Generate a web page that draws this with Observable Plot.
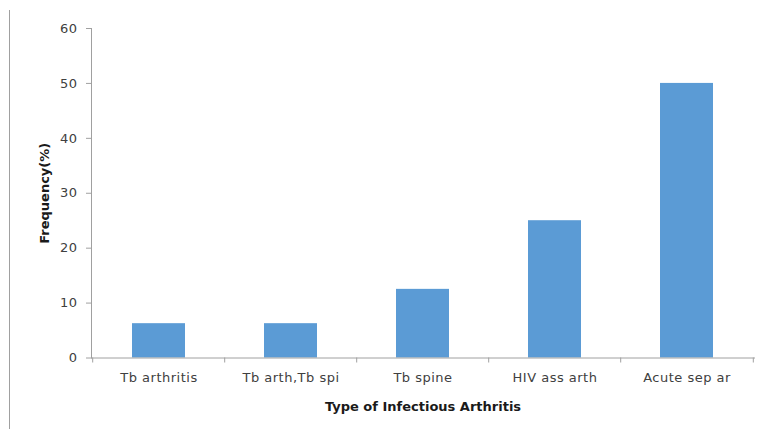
<!DOCTYPE html>
<html>
<head>
<meta charset="utf-8">
<script src="https://cdn.jsdelivr.net/npm/d3@7"></script>
<script src="https://cdn.jsdelivr.net/npm/@observablehq/plot@0.6"></script>
<style>
  html, body { margin: 0; padding: 0; background: #fff; }
  #wrap { position: relative; width: 759px; height: 429px; overflow: hidden; }
  #border { position: absolute; left: 9px; top: 10px; width: 1px; height: 419px; background: #a0a0a0; }
  svg { font-family: "DejaVu Sans", Verdana, sans-serif; }
  .ticklbl text { letter-spacing: 0.5px; }
</style>
</head>
<body>
<div id="wrap"><div id="border"></div></div>
<script>
const categories = ["Tb arthritis", "Tb arth,Tb spi", "Tb spine", "HIV ass arth", "Acute sep ar"];
const values = [6.25, 6.25, 12.5, 25, 50];
const yTicks = [0, 10, 20, 30, 40, 50, 60];
const xTitle = "Type of Infectious Arthritis";
const yTitle = "Frequency(%)";

const data = categories.map((c, i) => ({cat: c, value: values[i]}));

const W = 759, H = 429, ML = 91, MR = 5, MT = 28, MB = 71.5;
const step = (W - ML - MR) / categories.length;
const axisColor = "#a0a0a0";

const chart = Plot.plot({
  width: W,
  height: H,
  marginLeft: ML,
  marginRight: MR,
  marginTop: MT,
  marginBottom: MB,
  style: {fontFamily: "DejaVu Sans, Verdana, sans-serif", fontSize: "13px", color: "#404040", background: "transparent"},
  x: {domain: categories, paddingInner: 0.6, paddingOuter: 0.3, align: 0.5, label: null},
  y: {domain: [0, 60], label: null},
  marks: [
    Plot.barY(data, {x: "cat", y: "value", fill: "#5b9bd5"}),
    Plot.frame({anchor: "left", stroke: axisColor}),
    Plot.frame({anchor: "bottom", stroke: axisColor}),
    Plot.axisY({ticks: yTicks, tickSize: 5, tickPadding: 9, stroke: axisColor, fill: "#404040", label: null, fontSize: 13, className: "ticklbl"}),
    Plot.axisX({tickSize: 0, tickPadding: 15, fill: "#404040", label: null, fontSize: 13, className: "ticklbl"}),
    Plot.axisX({ticks: categories, tickSize: 5, dx: -step / 2, stroke: axisColor, tickFormat: () => "", label: null}),
    Plot.axisX({ticks: [categories[categories.length - 1]], tickSize: 5, dx: step / 2, stroke: axisColor, tickFormat: () => "", label: null}),
    Plot.text([xTitle], {text: d => d, frameAnchor: "bottom", dy: 49, lineAnchor: "middle", fontWeight: "bold", fontSize: 13, fill: "#1a1a1a"}),
    Plot.text([yTitle], {text: d => d, frameAnchor: "left", dx: -47, rotate: -90, textAnchor: "middle", lineAnchor: "middle", fontWeight: "bold", fontSize: 13, fill: "#1a1a1a"})
  ]
});
document.getElementById("wrap").appendChild(chart);
</script>
</body>
</html>
